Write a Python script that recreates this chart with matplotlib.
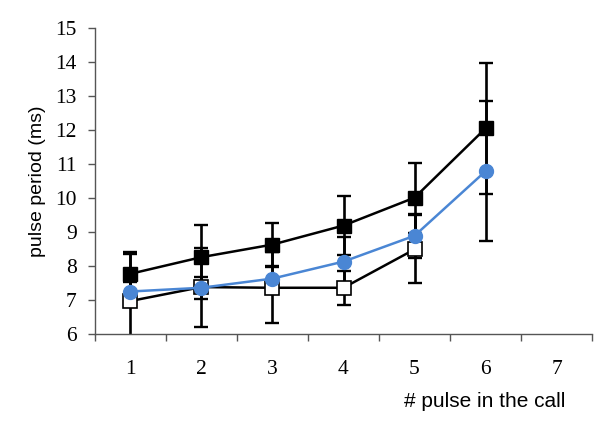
import matplotlib
matplotlib.use("Agg")
import matplotlib.pyplot as plt
import numpy as np

x_labels = ["1", "2", "3", "4", "5", "6", "7"]
x_filled = [1, 2, 3, 4, 5, 6]
filled_vals = [7.77, 8.26, 8.63, 9.19, 10.01, 12.05]
filled_err = [0.65, 0.96, 0.64, 0.86, 1.03, 1.93]

x_open = [1, 2, 3, 4, 5]
open_vals = [6.97, 7.38, 7.36, 7.36, 8.49]
open_err = [1.38, 1.16, 1.04, 0.50, 1.00]

x_blue = [1, 2, 3, 4, 5, 6]
blue_vals = [7.25, 7.36, 7.63, 8.13, 8.89, 10.79]
blue_err = [0.27, 0.33, 0.35, 0.73, 0.65, 2.05]

y_ticks = [6, 7, 8, 9, 10, 11, 12, 13, 14, 15]

fig = plt.figure(figsize=(6.0, 4.28), dpi=100)
ax = fig.add_axes([0.158, 0.2196, 0.829, 0.715])

ekw = dict(fmt='none', ecolor='black', elinewidth=1.9, capsize=5, capthick=1.7, zorder=2)
ax.errorbar(x_filled, filled_vals, yerr=filled_err, **ekw)
ax.errorbar(x_open, open_vals, yerr=open_err, **ekw)
ax.errorbar(x_blue, blue_vals, yerr=blue_err, **ekw)

ax.plot(x_filled, filled_vals, color='black', lw=1.8, marker='s', ms=9.5,
        mfc='black', mec='black', zorder=3)
ax.plot(x_open, open_vals, color='black', lw=1.8, marker='s', ms=9.5,
        mfc='white', mec='black', mew=1.2, zorder=3)
ax.plot(x_blue, blue_vals, color='#4a86d4', lw=1.8, marker='o', ms=10,
        mfc='#4a86d4', mec='#4a86d4', zorder=4)

ax.set_xlim(0.5, 7.5)
ax.set_ylim(6, 15)
ax.set_yticks(y_ticks)
ax.set_yticklabels([str(v) for v in y_ticks], family='Liberation Serif', fontsize=15.5)

ax.set_xticks(np.arange(0.5, 8.0, 1.0))
ax.set_xticklabels([])
ax.set_xticks(np.arange(1, len(x_labels) + 1), minor=True)
ax.set_xticklabels(x_labels, minor=True, family='Liberation Serif', fontsize=15.5)
ax.tick_params(axis='x', which='major', direction='out', length=5, width=1, color='#555555')
ax.tick_params(axis='x', which='minor', length=0, pad=19)
ax.tick_params(axis='y', direction='out', length=5, width=1, color='#555555', pad=8)

for s in ['top', 'right']:
    ax.spines[s].set_visible(False)
for s in ['left', 'bottom']:
    ax.spines[s].set_color('#555555')
    ax.spines[s].set_linewidth(1)

ax.set_ylabel('pulse period (ms)', family='Liberation Sans', fontsize=14, labelpad=7)
fig.text(0.807, 0.063, '# pulse in the call', family='Liberation Sans', fontsize=15,
         ha='center', va='center')

fig.savefig('out.png', dpi=100)
